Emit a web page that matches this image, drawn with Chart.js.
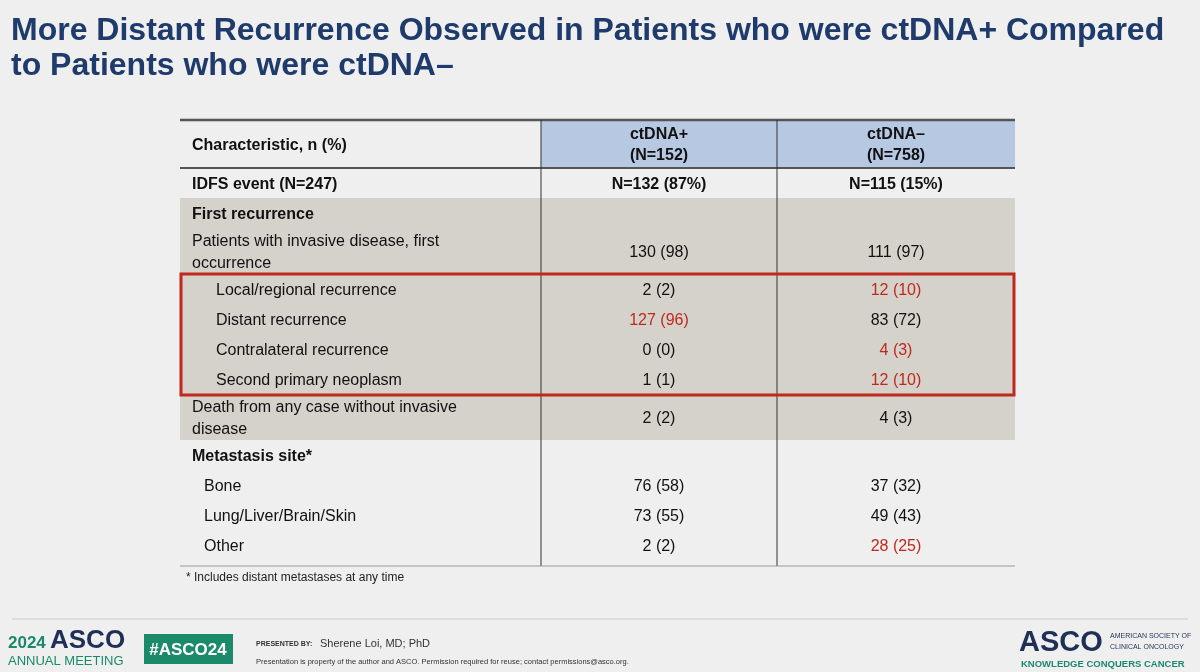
<!DOCTYPE html>
<html><head><meta charset="utf-8">
<script src="https://cdn.jsdelivr.net/npm/chart.js@4/dist/chart.umd.min.js"></script>
<style>html,body{margin:0;background:#efefef}#wrap{width:1200px;height:672px}</style>
</head><body><div id="wrap"><canvas id="c"></canvas></div>
<script>
// Table content
const columns = ['Characteristic, n (%)', 'ctDNA+\n(N=152)', 'ctDNA–\n(N=758)'];
const rowLabels = ['IDFS event (N=247)', 'First recurrence', 'Patients with invasive disease, first\noccurrence',
  'Local/regional recurrence', 'Distant recurrence', 'Contralateral recurrence', 'Second primary neoplasm',
  'Death from any case without invasive\ndisease', 'Metastasis site*', 'Bone', 'Lung/Liver/Brain/Skin', 'Other'];
const ctdnaPos = ['N=132 (87%)', '', '130 (98)', '2 (2)', '127 (96)', '0 (0)', '1 (1)', '2 (2)', '', '76 (58)', '73 (55)', '2 (2)'];
const ctdnaNeg = ['N=115 (15%)', '', '111 (97)', '12 (10)', '83 (72)', '4 (3)', '12 (10)', '4 (3)', '', '37 (32)', '49 (43)', '28 (25)'];
const redPos = [4];
const redNeg = [3, 5, 6, 11];
const boldRows = [0, 1, 8];
const indent = [0, 0, 0, 2, 2, 2, 2, 0, 0, 1, 1, 1];
const rowHeights = [30, 30, 46, 30, 30, 30, 30, 46, 30, 30, 30, 30];

const TOP = 120, HEAD = 48, LEFT = 180, RIGHT = 1015, COL1 = 541, COL2 = 777;
const FONT = '"Liberation Sans", Arial, sans-serif';

const tablePlugin = {
  id: 'table',
  afterDraw(chart) {
    const { ctx } = chart;
    const sx = (v) => chart.scales.x.getPixelForValue(v);
    const sy = (v) => chart.scales.y.getPixelForValue(v);
    const rowTop = [];
    let y = TOP + HEAD;
    rowHeights.forEach((h) => { rowTop.push(y); y += h; });
    const bottom = y + 6;

    ctx.save();
    ctx.fillStyle = '#b7c9e2';
    ctx.fillRect(sx(COL1), sy(TOP), sx(RIGHT) - sx(COL1), HEAD);
    ctx.fillStyle = '#d5d2cb';
    ctx.fillRect(sx(LEFT), sy(rowTop[1]), sx(RIGHT) - sx(LEFT), rowTop[8] - rowTop[1]);

    ctx.strokeStyle = '#555';
    ctx.lineWidth = 2.5;
    ctx.beginPath(); ctx.moveTo(sx(LEFT), sy(TOP)); ctx.lineTo(sx(RIGHT), sy(TOP)); ctx.stroke();
    ctx.lineWidth = 2;
    ctx.beginPath(); ctx.moveTo(sx(LEFT), sy(TOP + HEAD)); ctx.lineTo(sx(RIGHT), sy(TOP + HEAD)); ctx.stroke();
    ctx.lineWidth = 1;
    ctx.strokeStyle = '#333';
    [COL1, COL2].forEach((c) => {
      ctx.beginPath(); ctx.moveTo(sx(c), sy(TOP)); ctx.lineTo(sx(c), sy(bottom)); ctx.stroke();
    });
    ctx.strokeStyle = '#999';
    ctx.beginPath(); ctx.moveTo(sx(LEFT), sy(bottom)); ctx.lineTo(sx(RIGHT), sy(bottom)); ctx.stroke();

    ctx.fillStyle = '#111';
    ctx.textBaseline = 'middle';
    ctx.font = 'bold 16px ' + FONT;
    ctx.textAlign = 'left';
    ctx.fillText(columns[0], sx(LEFT + 12), sy(TOP + HEAD / 2 + 2));
    ctx.textAlign = 'center';
    [[columns[1], (COL1 + COL2) / 2], [columns[2], (COL2 + RIGHT) / 2]].forEach(([t, cx]) => {
      const parts = t.split('\n');
      ctx.fillText(parts[0], sx(cx), sy(TOP + 15));
      ctx.fillText(parts[1], sx(cx), sy(TOP + 36));
    });

    rowLabels.forEach((lab, i) => {
      const cy = rowTop[i] + rowHeights[i] / 2 + 2;
      const bold = boldRows.includes(i);
      ctx.font = (bold ? 'bold ' : '') + '16px ' + FONT;
      ctx.textAlign = 'left';
      ctx.fillStyle = '#111';
      const lines = lab.split('\n');
      const lx = sx(LEFT + 12 + indent[i] * 12);
      if (lines.length === 2) {
        ctx.fillText(lines[0], lx, sy(cy - 11));
        ctx.fillText(lines[1], lx, sy(cy + 11));
      } else {
        ctx.fillText(lab, lx, sy(cy));
      }
      ctx.textAlign = 'center';
      ctx.fillStyle = redPos.includes(i) ? '#c0281c' : '#111';
      ctx.fillText(ctdnaPos[i], sx((COL1 + COL2) / 2), sy(cy));
      ctx.fillStyle = redNeg.includes(i) ? '#c0281c' : '#111';
      ctx.fillText(ctdnaNeg[i], sx((COL2 + RIGHT) / 2), sy(cy));
    });

    ctx.strokeStyle = '#c0281c';
    ctx.lineWidth = 3;
    ctx.strokeRect(sx(LEFT + 1), sy(rowTop[3]), sx(RIGHT - 1) - sx(LEFT + 1), rowTop[7] - rowTop[3] + 1);

    ctx.fillStyle = '#222';
    ctx.font = '12px ' + FONT;
    ctx.textAlign = 'left';
    ctx.fillText('* Includes distant metastases at any time', sx(LEFT + 6), sy(578));

    ctx.fillStyle = '#1f3b6b';
    ctx.font = 'bold 32px ' + FONT;
    ctx.fillText('More Distant Recurrence Observed in Patients who were ctDNA+ Compared', sx(11), sy(31));
    ctx.fillText('to Patients who were ctDNA–', sx(11), sy(66));

    ctx.strokeStyle = '#ccc';
    ctx.lineWidth = 1;
    ctx.beginPath(); ctx.moveTo(sx(12), sy(619)); ctx.lineTo(sx(1188), sy(619)); ctx.stroke();
    ctx.fillStyle = '#1a8a6a';
    ctx.font = 'bold 17px ' + FONT;
    ctx.fillText('2024', sx(8), sy(643));
    ctx.fillStyle = '#1f2f55';
    ctx.font = 'bold 26px ' + FONT;
    ctx.fillText('ASCO', sx(50), sy(641));
    ctx.fillStyle = '#1a8a6a';
    ctx.font = '13px ' + FONT;
    ctx.fillText('ANNUAL MEETING', sx(8), sy(661));
    ctx.fillRect(sx(144), sy(634), 89, 30);
    ctx.fillStyle = '#fff';
    ctx.font = 'bold 17px ' + FONT;
    ctx.textAlign = 'center';
    ctx.fillText('#ASCO24', sx(188), sy(650));
    ctx.textAlign = 'left';
    ctx.fillStyle = '#333';
    ctx.font = 'bold 7px ' + FONT;
    ctx.fillText('PRESENTED BY:', sx(256), sy(644));
    ctx.font = '11px ' + FONT;
    ctx.fillText('Sherene Loi, MD; PhD', sx(320), sy(644));
    ctx.font = '7.5px ' + FONT;
    ctx.fillText('Presentation is property of the author and ASCO. Permission required for reuse; contact permissions@asco.org.', sx(256), sy(662));
    ctx.fillStyle = '#1f2f55';
    ctx.font = 'bold 29px ' + FONT;
    ctx.fillText('ASCO', sx(1019), sy(643));
    ctx.font = '7px ' + FONT;
    ctx.fillText('AMERICAN SOCIETY OF', sx(1110), sy(636));
    ctx.fillText('CLINICAL ONCOLOGY', sx(1110), sy(647));
    ctx.fillStyle = '#1a8a6a';
    ctx.font = 'bold 9.5px ' + FONT;
    ctx.fillText('KNOWLEDGE CONQUERS CANCER', sx(1021), sy(664));
    ctx.restore();
  },
};

new Chart(document.getElementById('c'), {
  type: 'scatter',
  data: { datasets: [{ data: [] }] },
  options: {
    responsive: true,
    maintainAspectRatio: false,
    animation: false,
    layout: { padding: 0 },
    plugins: { legend: { display: false }, tooltip: { enabled: false } },
    scales: {
      x: { type: 'linear', min: 0, max: 1200, display: false },
      y: { type: 'linear', min: 0, max: 672, reverse: true, display: false },
    },
  },
  plugins: [tablePlugin],
});
</script></body></html>
